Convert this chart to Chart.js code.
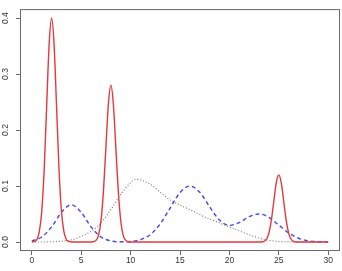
<!DOCTYPE html>
<html>
<head>
<meta charset="utf-8">
<script src="https://cdn.jsdelivr.net/npm/chart.js@4/dist/chart.umd.min.js"></script>
<style>
  html, body { margin: 0; padding: 0; background: #fff; }
  #wrap { width: 342px; height: 271px; }
</style>
</head>
<body>
<div id="wrap"><canvas id="densityChart" width="342" height="271"></canvas></div>
<script>
// Values
const xTicks = [0, 5, 10, 15, 20, 25, 30];
const yTicks = [0, 0.1, 0.2, 0.3, 0.4];

// red solid curve (three narrow peaks)
const redX = [0, 0.25, 0.5, 0.75, 1, 1.25, 1.5, 1.75, 2, 2.25, 2.5, 2.75, 3, 3.25, 3.5, 3.75, 4,
  5, 6, 6.25, 6.5, 6.75, 7, 7.25, 7.5, 7.75, 8, 8.25, 8.5, 8.75, 9, 9.25, 9.5, 9.75, 10,
  15, 20, 23, 23.25, 23.5, 23.75, 24, 24.25, 24.5, 24.75, 25, 25.25, 25.5, 25.75, 26, 26.25, 26.5, 26.75, 27, 30];
const redY = [0, 0.001, 0.004, 0.018, 0.054, 0.13, 0.243, 0.353, 0.4, 0.353, 0.243, 0.13, 0.054, 0.018, 0.004, 0.001, 0,
  0, 0, 0.001, 0.003, 0.012, 0.038, 0.091, 0.17, 0.247, 0.28, 0.247, 0.17, 0.091, 0.038, 0.012, 0.003, 0.001, 0,
  0, 0, 0, 0, 0.001, 0.005, 0.016, 0.039, 0.073, 0.106, 0.12, 0.106, 0.073, 0.039, 0.016, 0.005, 0.001, 0, 0, 0];

// blue dashed curve
const blueX = [0, 1, 2, 3, 4, 5, 6, 7, 8, 9, 10, 11, 12, 13, 14, 15, 16, 17, 18, 19, 20,
  21, 22, 23, 24, 25, 26, 27, 28, 29, 30];
const blueY = [0.002, 0.009, 0.027, 0.053, 0.0665, 0.053, 0.027, 0.009, 0.002, 0.0005, 0.001,
  0.0044, 0.0135, 0.0325, 0.0607, 0.0882, 0.1, 0.0888, 0.0629, 0.0393, 0.0297,
  0.0347, 0.0452, 0.0502, 0.0441, 0.0303, 0.0162, 0.0068, 0.0022, 0.0006, 0.0001];

// grey dotted curve
const greyX = [0, 1, 2, 3, 4, 5, 6, 7, 8, 9, 10, 10.5, 11, 12, 13, 14, 15, 16, 17, 18, 19, 20,
  21, 22, 23, 24, 25, 26, 27, 28, 29, 30];
const greyY = [0, 0, 0.0005, 0.0015, 0.004, 0.01, 0.019, 0.034, 0.058, 0.085, 0.106, 0.112, 0.111,
  0.103, 0.089, 0.075, 0.066, 0.058, 0.049, 0.041, 0.034, 0.027,
  0.02, 0.013, 0.007, 0.003, 0.001, 0.0003, 0, 0, 0, 0];

const toPoints = (xs, ys) => xs.map((x, i) => ({ x: x, y: ys[i] }));

// box around the plot region, like base R
const boxPlugin = {
  id: "box",
  afterDatasetsDraw(chart) {
    const { ctx, chartArea: a } = chart;
    ctx.save();
    ctx.strokeStyle = "#6a6a6a";
    ctx.lineWidth = 1;
    ctx.strokeRect(a.left + 0.5, a.top + 0.5, a.right - a.left - 1, a.bottom - a.top - 1);
    ctx.restore();
  },
};

const ctx = document.getElementById("densityChart").getContext("2d");

const chart = new Chart(ctx, {
  type: "line",
  data: {
    datasets: [
      {
        data: toPoints(redX, redY),
        borderColor: "#e4383c",
        borderWidth: 1.4,
        pointRadius: 0,
        cubicInterpolationMode: "monotone",
      },
      {
        data: toPoints(blueX, blueY),
        borderColor: "#4646e0",
        borderWidth: 1.4,
        borderDash: [4, 3],
        pointRadius: 0,
        cubicInterpolationMode: "monotone",
      },
      {
        data: toPoints(greyX, greyY),
        borderColor: "#707070",
        borderWidth: 1.1,
        borderDash: [1, 2],
        pointRadius: 0,
        cubicInterpolationMode: "monotone",
      },
    ],
  },
  options: {
    responsive: false,
    animation: false,
    layout: { padding: { top: 4, right: 2, left: 0, bottom: 0 } },
    plugins: {
      legend: { display: false },
      tooltip: { enabled: false },
    },
    scales: {
      x: {
        type: "linear",
        min: -1.2,
        max: 31.2,
        afterBuildTicks: (s) => { s.ticks = xTicks.map((v) => ({ value: v })); },
        afterFit: (s) => { s.height = 20; },
        border: { display: false },
        grid: { drawOnChartArea: false, drawTicks: true, tickLength: 4, color: "#6a6a6a" },
        ticks: {
          color: "#333",
          padding: 1,
          maxRotation: 0,
          font: { family: "Liberation Sans", size: 8.5 },
        },
      },
      y: {
        min: -0.016,
        max: 0.416,
        afterBuildTicks: (s) => { s.ticks = yTicks.map((v) => ({ value: v })); },
        afterFit: (s) => { s.width = 20; },
        border: { display: false },
        grid: { drawOnChartArea: false, drawTicks: true, tickLength: 4, color: "#6a6a6a" },
        ticks: {
          color: "#333",
          padding: 4,
          minRotation: 90,
          maxRotation: 90,
          crossAlign: "center",
          font: { family: "Liberation Sans", size: 8.5 },
          callback: (v) => v.toFixed(1),
        },
      },
    },
  },
  plugins: [boxPlugin],
});
</script>
</body>
</html>
